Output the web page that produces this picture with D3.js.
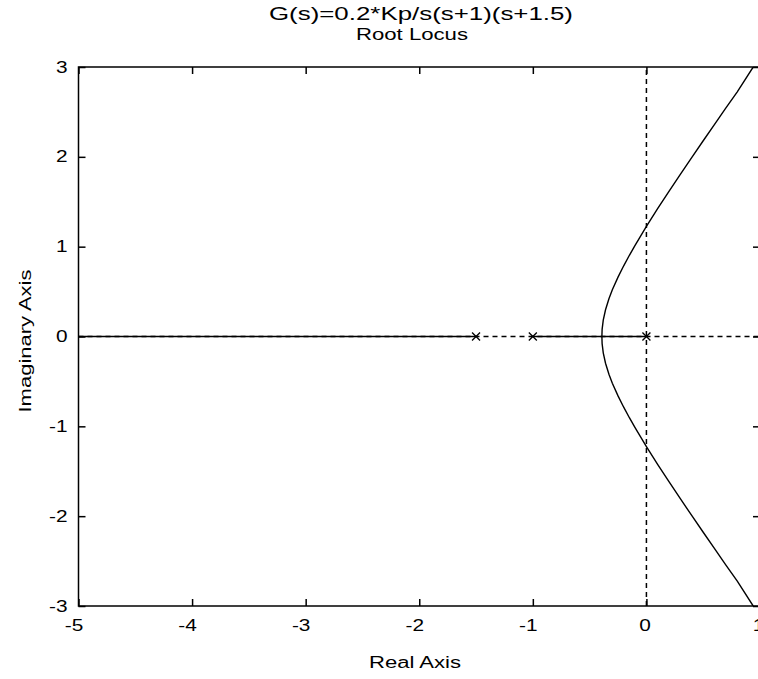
<!DOCTYPE html>
<html lang="en">
<head>
<meta charset="UTF-8">
<title>Root Locus</title>
<script src="https://d3js.org/d3.v7.min.js"></script>
<style>
  body { margin: 0; background: #fff; }
  text { font-family: "Liberation Sans", Arial, sans-serif; fill: #000; }
</style>
</head>
<body>
<div id="chart"></div>
<script>
// chart data
var xTicks = [-5, -4, -3, -2, -1, 0, 1];
var yTicks = [-3, -2, -1, 0, 1, 2, 3];
var poles = [-1.5, -1, 0];
// real-axis parts of the locus
var realStart = [-5, -1, -0.392];
var realEnd = [-1.5, -0.392, 0];
// complex branches
var upperRe = [-0.392, -0.39, -0.38, -0.36, -0.33, -0.3, -0.25, -0.2, -0.15, -0.1, -0.05, 0, 0.1, 0.2, 0.3, 0.4, 0.5, 0.6, 0.7, 0.8, 0.94];
var upperIm = [0, 0.079, 0.182, 0.298, 0.42, 0.52, 0.661, 0.787, 0.904, 1.015, 1.121, 1.225, 1.425, 1.619, 1.808, 1.995, 2.179, 2.362, 2.544, 2.724, 3.0];
var lowerRe = [-0.392, -0.39, -0.38, -0.36, -0.33, -0.3, -0.25, -0.2, -0.15, -0.1, -0.05, 0, 0.1, 0.2, 0.3, 0.4, 0.5, 0.6, 0.7, 0.8, 0.94];
var lowerIm = [0, -0.079, -0.182, -0.298, -0.42, -0.52, -0.661, -0.787, -0.904, -1.015, -1.121, -1.225, -1.425, -1.619, -1.808, -1.995, -2.179, -2.362, -2.544, -2.724, -3.0];

var W = 758, H = 679;
var margin = {top: 67, right: -2, bottom: 73, left: 78.5};

var svg = d3.select("#chart").append("svg")
  .attr("width", W)
  .attr("height", H);

var x = d3.scaleLinear().domain([-5, 1]).range([margin.left, W - margin.right]);
var y = d3.scaleLinear().domain([-3, 3]).range([H - margin.bottom, margin.top]);

// the original text is drawn wide, so stretch each text along its run
function stretch(sel, k) {
  sel.each(function() {
    var len = this.getComputedTextLength();
    d3.select(this).attr("textLength", len * k).attr("lengthAdjust", "spacingAndGlyphs");
  });
}

var plot = svg.append("g");

svg.append("clipPath").attr("id", "clip")
  .append("rect")
    .attr("x", x(-5)).attr("y", y(3))
    .attr("width", x(1) - x(-5)).attr("height", y(-3) - y(3));

// dashed zero lines
plot.append("line")
  .attr("x1", x(-5)).attr("x2", x(1))
  .attr("y1", y(0)).attr("y2", y(0))
  .attr("stroke", "#000").attr("stroke-width", 1.5)
  .attr("stroke-dasharray", "5,4");
plot.append("line")
  .attr("x1", x(0)).attr("x2", x(0))
  .attr("y1", y(-3)).attr("y2", y(3))
  .attr("stroke", "#000").attr("stroke-width", 1.5)
  .attr("stroke-dasharray", "5,4");

// real axis branches
plot.selectAll(".real")
  .data(realStart)
  .enter()
  .append("line")
    .attr("x1", function(d) { return x(d); })
    .attr("x2", function(d, i) { return x(realEnd[i]); })
    .attr("y1", y(0)).attr("y2", y(0))
    .attr("stroke", "#000").attr("stroke-width", 1.6);

// complex branches
var line = d3.line()
  .x(function(d) { return x(d[0]); })
  .y(function(d) { return y(d[1]); });

plot.append("path")
  .attr("d", line(d3.zip(upperRe, upperIm)))
  .attr("fill", "none").attr("stroke", "#000").attr("stroke-width", 1.4)
  .attr("clip-path", "url(#clip)");
plot.append("path")
  .attr("d", line(d3.zip(lowerRe, lowerIm)))
  .attr("fill", "none").attr("stroke", "#000").attr("stroke-width", 1.4)
  .attr("clip-path", "url(#clip)");

// pole markers
var m = 4;
plot.selectAll(".pole")
  .data(poles)
  .enter()
  .append("path")
    .attr("d", function(d) {
      var cx = x(d), cy = y(0);
      return "M" + (cx - m) + "," + (cy - m) + "L" + (cx + m) + "," + (cy + m) +
             "M" + (cx - m) + "," + (cy + m) + "L" + (cx + m) + "," + (cy - m);
    })
    .attr("stroke", "#000").attr("stroke-width", 1.3);

// frame
svg.append("rect")
  .attr("x", x(-5)).attr("y", y(3))
  .attr("width", x(1) - x(-5)).attr("height", y(-3) - y(3))
  .attr("fill", "none").attr("stroke", "#000").attr("stroke-width", 1.5);

// axes, ticks inside
var tickLen = 7;
var fmt = function(d) { return String(d); };

svg.append("g")
  .attr("transform", "translate(0," + y(-3) + ")")
  .call(d3.axisBottom(x).tickValues(xTicks).tickSize(-tickLen).tickPadding(14).tickFormat(fmt))
  .call(function(g) { g.select(".domain").remove(); })
  .call(function(g) { g.selectAll("line").attr("stroke-width", 1.5); })
  .call(function(g) {
    g.selectAll("text").attr("font-size", 16).attr("font-family", null)
      .attr("dx", function(d) { return d < 0 ? -5 : -2; })
      .call(stretch, 1.3);
  });

svg.append("g")
  .attr("transform", "translate(0," + y(3) + ")")
  .call(d3.axisTop(x).tickValues(xTicks).tickSize(-tickLen).tickFormat(""))
  .call(function(g) { g.select(".domain").remove(); })
  .call(function(g) { g.selectAll("line").attr("stroke-width", 1.5); });

svg.append("g")
  .attr("transform", "translate(" + x(-5) + ",0)")
  .call(d3.axisLeft(y).tickValues(yTicks).tickSize(-tickLen).tickPadding(11).tickFormat(fmt))
  .call(function(g) { g.select(".domain").remove(); })
  .call(function(g) { g.selectAll("line").attr("stroke-width", 1.5); })
  .call(function(g) {
    g.selectAll("text").attr("font-size", 16).attr("font-family", null)
      .call(stretch, 1.3);
  });

svg.append("g")
  .attr("transform", "translate(" + x(1) + ",0)")
  .call(d3.axisRight(y).tickValues(yTicks).tickSize(-tickLen).tickFormat(""))
  .call(function(g) { g.select(".domain").remove(); })
  .call(function(g) { g.selectAll("line").attr("stroke-width", 1.5); });

// titles
svg.append("text")
  .attr("x", 421).attr("y", 20)
  .attr("text-anchor", "middle")
  .attr("font-size", 18)
  .attr("textLength", 304).attr("lengthAdjust", "spacingAndGlyphs")
  .text("G(s)=0.2*Kp/s(s+1)(s+1.5)");
svg.append("text")
  .attr("x", 412).attr("y", 40)
  .attr("text-anchor", "middle")
  .attr("font-size", 16)
  .attr("textLength", 112).attr("lengthAdjust", "spacingAndGlyphs")
  .text("Root Locus");
svg.append("text")
  .attr("x", 415).attr("y", 668)
  .attr("text-anchor", "middle")
  .attr("font-size", 16)
  .attr("textLength", 92).attr("lengthAdjust", "spacingAndGlyphs")
  .text("Real Axis");
svg.append("text")
  .attr("transform", "translate(31,341) rotate(-90)")
  .attr("text-anchor", "middle")
  .attr("font-size", 16)
  .attr("textLength", 143).attr("lengthAdjust", "spacingAndGlyphs")
  .text("Imaginary Axis");
</script>
</body>
</html>
